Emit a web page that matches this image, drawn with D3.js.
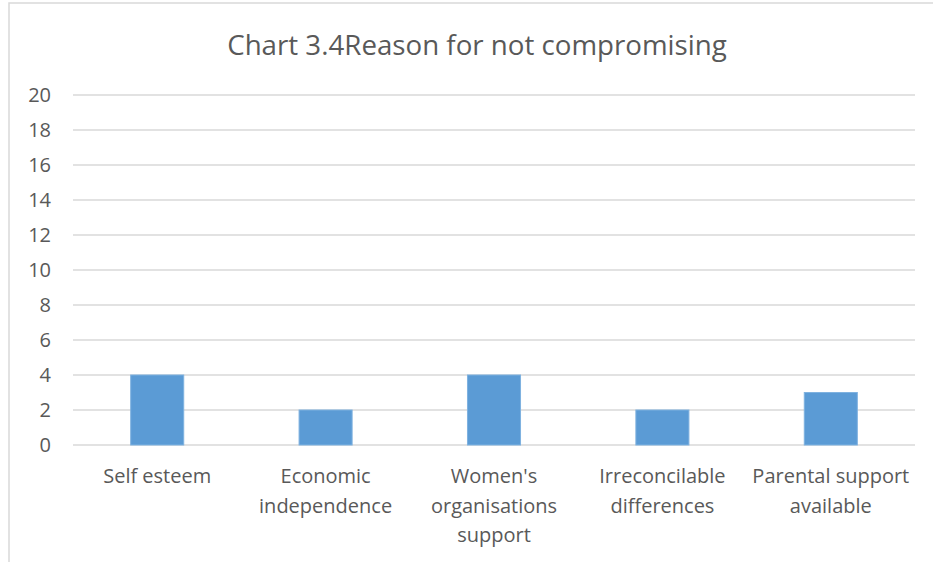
<!DOCTYPE html>
<html>
<head>
<meta charset="utf-8">
<script src="https://cdn.jsdelivr.net/npm/d3@7/dist/d3.min.js"></script>
<style>
  html, body { margin: 0; padding: 0; background: #fff; }
  svg { display: block; font-family: "Open Sans", "Noto Sans", sans-serif; }
</style>
</head>
<body>
<script>
// Chart data
const title = "Chart 3.4Reason for not compromising";
const categories = [
  ["Self esteem"],
  ["Economic", "independence"],
  ["Women's", "organisations", "support"],
  ["Irreconcilable", "differences"],
  ["Parental support", "available"]
];
const values = [4, 2, 4, 2, 3];
const yTicks = [0, 2, 4, 6, 8, 10, 12, 14, 16, 18, 20];

const W = 933, H = 562;
const margin = { left: 73, right: 18, top: 95, bottom: 117 };

const svg = d3.select("body").append("svg")
  .attr("width", W).attr("height", H);

// Chart frame
svg.append("rect")
  .attr("x", 9).attr("y", 3)
  .attr("width", W + 10).attr("height", H + 10)
  .attr("fill", "#fff").attr("stroke", "#d9d9d9").attr("stroke-width", 1.5);

const x = d3.scaleBand()
  .domain(d3.range(categories.length))
  .range([margin.left, W - margin.right])
  .paddingInner(0.685).paddingOuter(0.3425);

const y = d3.scaleLinear()
  .domain([0, 20])
  .range([H - margin.bottom, margin.top]);

// Gridlines
svg.append("g")
  .selectAll("line").data(yTicks).join("line")
  .attr("x1", margin.left).attr("x2", W - margin.right)
  .attr("y1", d => y(d)).attr("y2", d => y(d))
  .attr("stroke", "#d9d9d9").attr("stroke-width", 1.5);

// Y axis labels
const yAxis = d3.axisLeft(y).tickValues(yTicks).tickSize(0).tickPadding(0);
const gy = svg.append("g")
  .attr("transform", `translate(${margin.left - 22},0)`)
  .call(yAxis);
gy.select(".domain").remove();
gy.selectAll("text")
  .attr("fill", "#595959").attr("font-size", 20)
  .attr("font-family", "'Open Sans', sans-serif");

// Bars
svg.append("g")
  .selectAll("rect").data(values).join("rect")
  .attr("x", (d, i) => x(i))
  .attr("width", x.bandwidth())
  .attr("y", d => y(d))
  .attr("height", d => y(0) - y(d))
  .attr("fill", "#5b9bd5")
  .attr("stroke", "#7fb2e0").attr("stroke-width", 1);

// Category labels
const lab = svg.append("g")
  .selectAll("text").data(categories).join("text")
  .attr("text-anchor", "middle")
  .attr("fill", "#595959").attr("font-size", 20)
  .attr("transform", (d, i) => `translate(${x(i) + x.bandwidth() / 2},${y(0) + 38})`);
lab.selectAll("tspan").data(d => d).join("tspan")
  .attr("x", 0).attr("dy", (d, j) => j === 0 ? 0 : 29.5)
  .text(d => d);

// Title
svg.append("text")
  .attr("x", 477).attr("y", 55)
  .attr("text-anchor", "middle")
  .attr("fill", "#595959").attr("font-size", 27.7)
  .text(title);
</script>
</body>
</html>
